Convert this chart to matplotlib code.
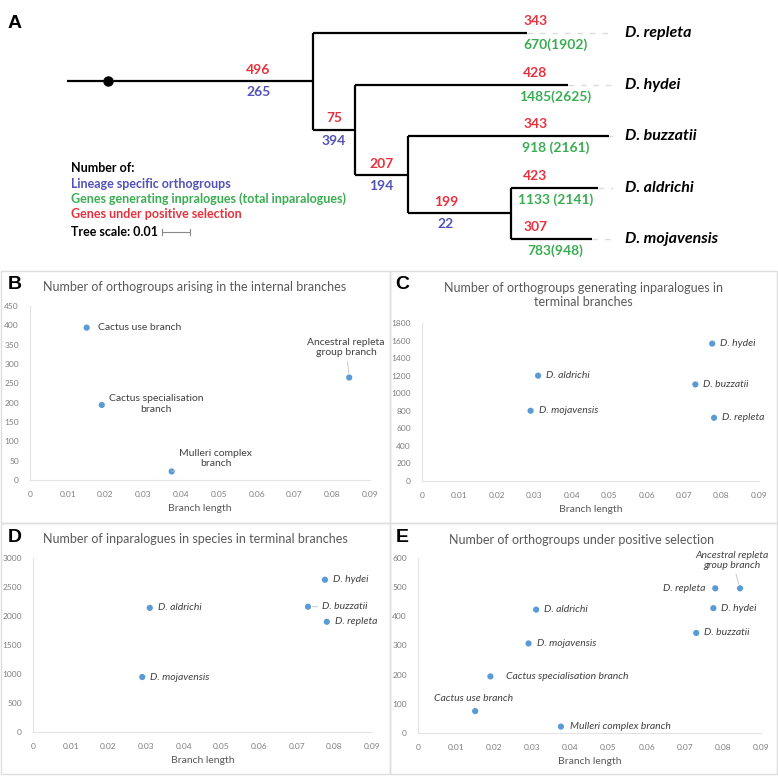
import numpy as np
import matplotlib
matplotlib.use("Agg")
import matplotlib.pyplot as plt
from matplotlib.patches import Rectangle

plt.rcParams['font.family'] = ['Lato', 'DejaVu Sans']

# ---------------- data ----------------
species = ['D. repleta', 'D. hydei', 'D. buzzatii', 'D. aldrichi', 'D. mojavensis']

# tree branch lengths
root_len = 0.088
cactus_use_len = 0.0147
cactus_spec_len = 0.0190
mulleri_len = 0.0368
tip_len = [0.0764, 0.0764, 0.0718, 0.0310, 0.0290]

# tree numbers
tip_possel = [343, 428, 343, 423, 307]
tip_inpar = ['670(1902)', '1485(2625)', '918 (2161)', '1133 (2141)', '783(948)']
internal_possel = [496, 75, 207, 199]      # root, cactus use, cactus spec, mulleri
internal_lineage = [265, 394, 194, 22]

# scatter panels
internal_names = ['Ancestral repleta\ngroup branch', 'Cactus use branch',
                  'Cactus specialisation\nbranch', 'Mulleri complex\nbranch']
internal_bl = [0.0845, 0.015, 0.019, 0.0375]
internal_orthogroups = [265, 394, 194, 22]

terminal_bl = [0.078, 0.0775, 0.073, 0.031, 0.029]
terminal_gen_inpar = [720, 1565, 1100, 1200, 800]
terminal_tot_inpar = [1900, 2625, 2160, 2140, 948]

e_terminal = [496, 428, 343, 423, 307]
e_internal = [496, 75, 194, 22]
e_internal_names = ['Ancestral repleta\ngroup branch', 'Cactus use branch',
                    'Cactus specialisation branch', 'Mulleri complex branch']

RED = '#e6323e'
BLUE = '#5252b8'
GREEN = '#3aad52'
DOT = '#5b9bd5'
W = 778.0

fig = plt.figure(figsize=(7.78, 7.78), dpi=100)


def fx(px):
    return px / W


def fy(py):
    return 1 - py / W


# ---------------- panel A: tree ----------------
ax = fig.add_axes([0, fy(265), 1, 265 / W])
scale = 2800.0  # pixels per unit branch length
ax.set_xlim(-67 / scale, (W - 67) / scale)
row = 51.5
ax.set_ylim((265 - 33) / row, -33 / row)
ax.axis('off')

n1 = root_len
n2 = n1 + cactus_use_len
n3 = n2 + cactus_spec_len
n4 = n3 + mulleri_len
y4 = 3.5
y3 = (2 + y4) / 2
y2 = (1 + y3) / 2
y1 = (0 + y2) / 2
kw = dict(color='black', lw=1.6, solid_capstyle='butt')
ax.plot([0, n1], [y1, y1], **kw)
ax.plot([n1, n1], [0, y2], **kw)
ax.plot([n1, n2], [y2, y2], **kw)
ax.plot([n2, n2], [1, y3], **kw)
ax.plot([n2, n3], [y3, y3], **kw)
ax.plot([n3, n3], [2, y4], **kw)
ax.plot([n3, n4], [y4, y4], **kw)
ax.plot([n4, n4], [3, 4], **kw)
parents = [n1, n2, n3, n4, n4]
tip_end_x = 0.195
name_x = 0.1993
for i, (p, l) in enumerate(zip(parents, tip_len)):
    ax.plot([p, p + l], [i, i], **kw)
    ax.plot([p + l, tip_end_x], [i, i], color='#dcdcdc', lw=1.0, ls=(0, (4, 5)))
    ax.text(name_x, i, species[i], fontsize=11.5, fontweight='bold', style='italic',
            va='center', ha='left')
    ax.annotate(str(tip_possel[i]), (0.1672, i), xytext=(0, 8.5), textcoords='offset points',
                ha='center', va='center', color=RED, fontsize=10, fontweight='bold')
    ax.annotate(tip_inpar[i], (0.1745, i), xytext=(0, -8.5), textcoords='offset points',
                ha='center', va='center', color=GREEN, fontsize=10, fontweight='bold')
ax.plot([0.0146], [y1], 'o', color='black', ms=6.5)

int_x = [n1 - 0.0196, (n1 + n2) / 2, (n2 + n3) / 2, n3 + 0.37 * mulleri_len]
int_y = [y1, y2, y3, y4]
for xx, yy, r, b in zip(int_x, int_y, internal_possel, internal_lineage):
    ax.annotate(str(r), (xx, yy), xytext=(0, 8), textcoords='offset points',
                ha='center', va='center', color=RED, fontsize=10, fontweight='bold')
    ax.annotate(str(b), (xx, yy), xytext=(0, -8), textcoords='offset points',
                ha='center', va='center', color=BLUE, fontsize=10, fontweight='bold')

# legend of panel A
leg_fs = 9
fig.text(fx(71), fy(168), 'Number of:', fontsize=leg_fs, fontweight='bold', va='center')
fig.text(fx(71), fy(184), 'Lineage specific orthogroups', fontsize=leg_fs, fontweight='bold',
         color=BLUE, va='center')
fig.text(fx(71), fy(199), 'Genes generating inpralogues (total inparalogues)', fontsize=leg_fs,
         fontweight='bold', color=GREEN, va='center')
fig.text(fx(71), fy(214), 'Genes under positive selection', fontsize=leg_fs, fontweight='bold',
         color=RED, va='center')
fig.text(fx(71), fy(232), 'Tree scale: 0.01', fontsize=leg_fs, fontweight='bold', va='center')
sb_x0 = (162 - 67) / scale
sb_y = (232 - 33) / row
ax.plot([sb_x0, sb_x0 + 0.01], [sb_y, sb_y], color='#888888', lw=0.8)
ax.plot([sb_x0, sb_x0], [sb_y - 0.05, sb_y + 0.05], color='#888888', lw=0.8)
ax.plot([sb_x0 + 0.01, sb_x0 + 0.01], [sb_y - 0.05, sb_y + 0.05], color='#888888', lw=0.8)
fig.text(fx(15), fy(23), 'A', fontsize=14, fontweight='bold', family='Liberation Sans',
         ha='center', va='center')

# ---------------- panel borders ----------------
for (x0, y0, x1, y1b) in [(1, 271, 390, 523), (390, 271, 777, 523),
                          (1, 523, 390, 774), (390, 523, 777, 774)]:
    fig.add_artist(Rectangle((fx(x0), fy(y1b)), (x1 - x0) / W, (y1b - y0) / W,
                             transform=fig.transFigure, fill=False,
                             edgecolor='#dedede', lw=1.0))


# ---------------- scatter panels ----------------
def scatter_panel(rect, title, title_xy, xs, ys, labels, layout, ymax, ystep, italic):
    a = fig.add_axes(rect)
    a.scatter(xs, ys, s=20, color=DOT, zorder=3, edgecolors='none')
    a.set_xlim(0, 0.09)
    a.set_ylim(0, ymax)
    a.set_xticks(np.arange(0, 0.0901, 0.01))
    a.set_xticklabels(['0'] + ['%.2f' % v for v in np.arange(0.01, 0.0901, 0.01)])
    a.set_yticks(np.arange(0, ymax + 1, ystep))
    a.tick_params(length=0, labelsize=6, labelcolor='#7f7f7f', pad=8)
    for s in ['top', 'right']:
        a.spines[s].set_visible(False)
    for s in ['left', 'bottom']:
        a.spines[s].set_color('#e3e3e3')
        a.spines[s].set_linewidth(0.8)
    a.set_xlabel('Branch length', fontsize=7.5, color='#595959', labelpad=4)
    fig.text(fx(title_xy[0]), fy(title_xy[1]), title, fontsize=9, color='#595959',
             ha='center', va='center', linespacing=1.3)
    for x, y, lab, lay, it in zip(xs, ys, labels, layout, italic):
        dx, dy, ha, leader = lay
        props = None
        if leader:
            props = dict(arrowstyle='-', color='#bfbfbf', lw=0.6, shrinkA=1, shrinkB=3)
        a.annotate(lab, (x, y), xytext=(dx * 0.72, dy * 0.72), textcoords='offset points',
                   ha=ha, va='center', fontsize=7.5, color='#404040',
                   style='italic' if it else 'normal', arrowprops=props,
                   multialignment='center')
    return a


# B
scatter_panel([fx(30), fy(480), 340 / W, 174 / W],
              'Number of orthogroups arising in the internal branches', (195, 287),
              internal_bl, internal_orthogroups, internal_names,
              [(-3, 30, 'center', True), (11, 0, 'left', False),
               (54, 1, 'center', False), (44, 13, 'center', True)],
              450, 50, [False] * 4)
fig.text(fx(15), fy(284), 'B', fontsize=14, fontweight='bold', family='Liberation Sans',
         ha='center', va='center')

# C
scatter_panel([fx(422), fy(481), 337 / W, 158 / W],
              'Number of orthogroups generating inparalogues in\nterminal branches', (583, 295),
              terminal_bl, terminal_gen_inpar, species,
              [(8, 0, 'left', False)] * 5, 1800, 200, [True] * 5)
fig.text(fx(402), fy(284), 'C', fontsize=14, fontweight='bold', family='Liberation Sans',
         ha='center', va='center')

# D
scatter_panel([fx(33), fy(732), 339 / W, 174 / W],
              'Number of inparalogues in species in terminal branches', (195, 539),
              terminal_bl, terminal_tot_inpar, species,
              [(8, 0, 'left', False), (8, 0, 'left', False), (14, 0, 'left', True),
               (8, 0, 'left', False), (8, 0, 'left', False)],
              3000, 500, [True] * 5)
fig.text(fx(15), fy(538), 'D', fontsize=14, fontweight='bold', family='Liberation Sans',
         ha='center', va='center')

# E
scatter_panel([fx(418), fy(733), 343 / W, 175 / W],
              'Number of orthogroups under positive selection', (582, 540),
              terminal_bl + internal_bl, e_terminal + e_internal, species + e_internal_names,
              [(-10, 0, 'right', False), (8, 0, 'left', False), (8, 0, 'left', False),
               (8, 0, 'left', False), (8, 0, 'left', False),
               (-8, 28, 'center', True), (-2, 13, 'center', True),
               (16, 0, 'left', False), (9, 0, 'left', False)],
              600, 100, [True] * 9)
fig.text(fx(402), fy(538), 'E', fontsize=14, fontweight='bold', family='Liberation Sans',
         ha='center', va='center')

fig.savefig('out.png', dpi=100, facecolor='white')
